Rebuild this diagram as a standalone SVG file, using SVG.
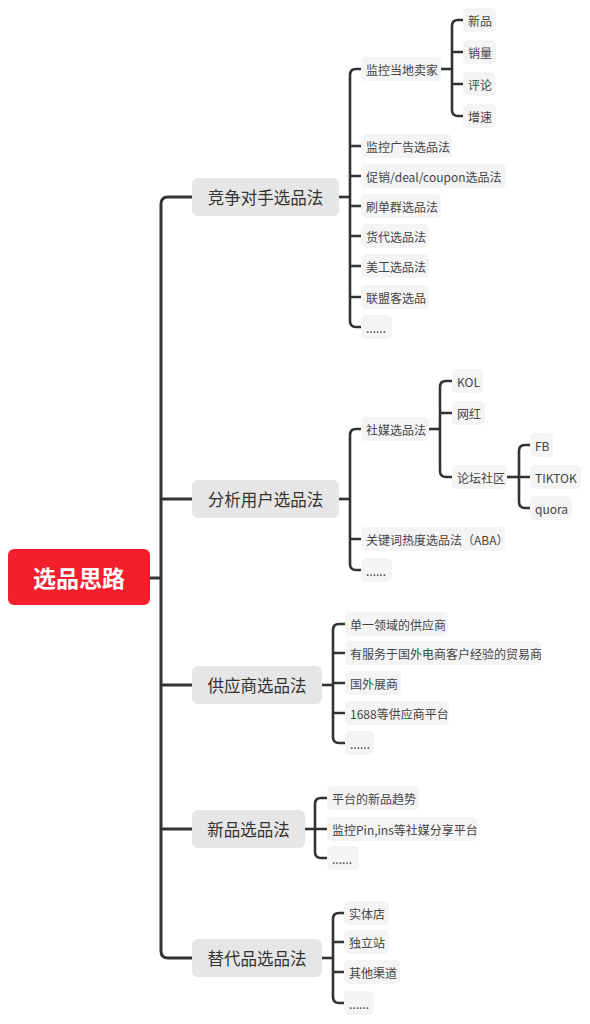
<svg xmlns="http://www.w3.org/2000/svg" width="590" height="1024" viewBox="0 0 590 1024">
<style>
.bg{fill:#ffffff}
.root rect{fill:#f41f2d}
.root text{fill:#ffffff;font-family:"Noto Sans CJK SC","Liberation Sans",sans-serif;font-size:23px;font-weight:bold;text-anchor:middle;dominant-baseline:central}
.l1 rect{fill:#e6e6e6}
.l1 text{fill:#333333;font-family:"Noto Sans CJK SC","Liberation Sans",sans-serif;font-size:16.5px;text-anchor:middle;dominant-baseline:central}
.l2 rect{fill:#f4f4f4}
.l2 text{fill:#444444;font-family:"Noto Sans CJK SC","Liberation Sans",sans-serif;font-size:12px;dominant-baseline:central}
.c{fill:none;stroke:#333333;stroke-width:2.6;stroke-linecap:butt;stroke-linejoin:round}
.c1{stroke-width:3}
</style>
<rect class="bg" x="0" y="0" width="590" height="1024"/>
<g id="connectors">
  <path class="c c1" d="M150,578 H161"/>
  <path class="c c1" d="M192,197 H168 Q161,197 161,204 V951 Q161,958 168,958 H192 M161,499 H192 M161,685 H192 M161,829 H192"/>
  <!-- competitor -->
  <path class="c" d="M339,197 H350"/>
  <path class="c" d="M361,69 H356 Q350,69 350,75 V321 Q350,327 356,327 H361 M350,146 H361 M350,176 H361 M350,206 H361 M350,236 H361 M350,266 H361 M350,297 H361"/>
  <path class="c" d="M441,69 H452"/>
  <path class="c" d="M463,20 H458 Q452,20 452,26 V110 Q452,116 458,116 H463 M452,52 H463 M452,84 H463"/>
  <!-- user -->
  <path class="c" d="M339,499 H350"/>
  <path class="c" d="M361,429 H356 Q350,429 350,435 V564 Q350,570 356,570 H361 M350,539 H361"/>
  <path class="c" d="M429,429 H440"/>
  <path class="c" d="M452,381 H446 Q440,381 440,387 V471 Q440,477 446,477 H452 M440,413 H452"/>
  <path class="c" d="M507,477 H519"/>
  <path class="c" d="M530,445 H525 Q519,445 519,451 V502 Q519,508 525,508 H530 M519,477 H530"/>
  <!-- supplier -->
  <path class="c" d="M322,685 H333"/>
  <path class="c" d="M345,624 H339 Q333,624 333,630 V737 Q333,743 339,743 H345 M333,653 H345 M333,683 H345 M333,713 H345"/>
  <!-- new -->
  <path class="c" d="M305,829 H315"/>
  <path class="c" d="M327,798 H321 Q315,798 315,804 V852 Q315,858 321,858 H327 M315,829 H327"/>
  <!-- substitute -->
  <path class="c" d="M322,958 H333"/>
  <path class="c" d="M344,913 H339 Q333,913 333,919 V997 Q333,1003 339,1003 H344 M333,942 H344 M333,972 H344"/>
</g>
<g id="root" class="root"><rect x="8" y="549" width="142" height="56" rx="6"/><text x="79" y="577">选品思路</text></g>
<g id="n-compete" class="l1"><rect x="192" y="178" width="147" height="38" rx="6"/><text x="265.5" y="197">竞争对手选品法</text></g>
<g id="n-user" class="l1"><rect x="192" y="480" width="147" height="38" rx="6"/><text x="265.5" y="499">分析用户选品法</text></g>
<g id="n-supplier" class="l1"><rect x="192" y="666" width="130" height="38" rx="6"/><text x="257" y="685">供应商选品法</text></g>
<g id="n-new" class="l1"><rect x="192" y="810" width="113" height="38" rx="6"/><text x="248.5" y="829">新品选品法</text></g>
<g id="n-sub" class="l1"><rect x="192" y="939" width="130" height="38" rx="6"/><text x="257" y="958">替代品选品法</text></g>

<g id="n-local" class="l2"><rect x="361" y="57" width="80" height="24" rx="5"/><text x="366" y="69">监控当地卖家</text></g>
<g id="n-xinpin" class="l2"><rect x="463" y="8" width="33" height="24" rx="5"/><text x="468" y="20">新品</text></g>
<g id="n-xiaoliang" class="l2"><rect x="463" y="40" width="33" height="24" rx="5"/><text x="468" y="52">销量</text></g>
<g id="n-pinglun" class="l2"><rect x="463" y="72" width="33" height="24" rx="5"/><text x="468" y="84">评论</text></g>
<g id="n-zengsu" class="l2"><rect x="463" y="104" width="33" height="24" rx="5"/><text x="468" y="116">增速</text></g>
<g id="n-ad" class="l2"><rect x="361" y="134" width="91" height="24" rx="5"/><text x="366" y="146">监控广告选品法</text></g>
<g id="n-promo" class="l2"><rect x="361" y="164" width="145" height="24" rx="5"/><text x="366" y="176">促销/deal/coupon选品法</text></g>
<g id="n-shuadan" class="l2"><rect x="361" y="194" width="80" height="24" rx="5"/><text x="366" y="206">刷单群选品法</text></g>
<g id="n-huodai" class="l2"><rect x="361" y="224" width="68" height="24" rx="5"/><text x="366" y="236">货代选品法</text></g>
<g id="n-meigong" class="l2"><rect x="361" y="254" width="68" height="24" rx="5"/><text x="366" y="266">美工选品法</text></g>
<g id="n-lianmeng" class="l2"><rect x="361" y="285" width="68" height="24" rx="5"/><text x="366" y="297">联盟客选品</text></g>
<g id="n-more1" class="l2"><rect x="361" y="315" width="31" height="24" rx="5"/><text x="366" y="327">......</text></g>

<g id="n-social" class="l2"><rect x="361" y="417" width="68" height="24" rx="5"/><text x="366" y="429">社媒选品法</text></g>
<g id="n-kol" class="l2"><rect x="452" y="369" width="31" height="24" rx="5"/><text x="457" y="381">KOL</text></g>
<g id="n-wanghong" class="l2"><rect x="452" y="401" width="33" height="24" rx="5"/><text x="457" y="413">网红</text></g>
<g id="n-forum" class="l2"><rect x="452" y="465" width="55" height="24" rx="5"/><text x="457" y="477">论坛社区</text></g>
<g id="n-fb" class="l2"><rect x="530" y="433" width="23" height="24" rx="5"/><text x="535" y="445">FB</text></g>
<g id="n-tiktok" class="l2"><rect x="530" y="465" width="51" height="24" rx="5"/><text x="535" y="477">TIKTOK</text></g>
<g id="n-quora" class="l2"><rect x="530" y="496" width="42" height="24" rx="5"/><text x="535" y="508">quora</text></g>
<g id="n-aba" class="l2"><rect x="361" y="527" width="144" height="24" rx="5"/><text x="366" y="539">关键词热度选品法（ABA）</text></g>
<g id="n-more2" class="l2"><rect x="361" y="558" width="31" height="24" rx="5"/><text x="366" y="570">......</text></g>

<g id="n-single" class="l2"><rect x="345" y="612" width="103" height="24" rx="5"/><text x="350" y="624">单一领域的供应商</text></g>
<g id="n-trader" class="l2"><rect x="345" y="641" width="196" height="24" rx="5"/><text x="350" y="653">有服务于国外电商客户经验的贸易商</text></g>
<g id="n-expo" class="l2"><rect x="345" y="671" width="56" height="24" rx="5"/><text x="350" y="683">国外展商</text></g>
<g id="n-1688" class="l2"><rect x="345" y="701" width="104" height="24" rx="5"/><text x="350" y="713">1688等供应商平台</text></g>
<g id="n-more3" class="l2"><rect x="345" y="731" width="29" height="24" rx="5"/><text x="350" y="743">......</text></g>

<g id="n-trend" class="l2"><rect x="327" y="786" width="92" height="24" rx="5"/><text x="332" y="798">平台的新品趋势</text></g>
<g id="n-pin" class="l2"><rect x="327" y="817" width="150" height="24" rx="5"/><text x="332" y="829">监控Pin,ins等社媒分享平台</text></g>
<g id="n-more4" class="l2"><rect x="327" y="846" width="32" height="24" rx="5"/><text x="332" y="858">......</text></g>

<g id="n-store" class="l2"><rect x="344" y="901" width="45" height="24" rx="5"/><text x="349" y="913">实体店</text></g>
<g id="n-indep" class="l2"><rect x="344" y="930" width="45" height="24" rx="5"/><text x="349" y="942">独立站</text></g>
<g id="n-other" class="l2"><rect x="344" y="960" width="56" height="24" rx="5"/><text x="349" y="972">其他渠道</text></g>
<g id="n-more5" class="l2"><rect x="344" y="991" width="30" height="24" rx="5"/><text x="349" y="1003">......</text></g>
</svg>
